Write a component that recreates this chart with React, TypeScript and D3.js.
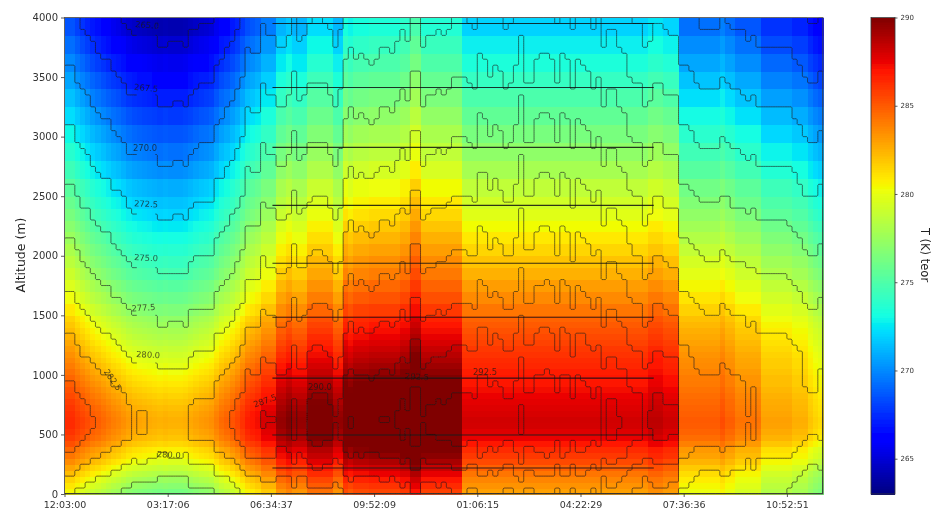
import React, { useEffect, useRef } from 'react'
import * as d3 from 'd3'

// tick labels
const timeTickColumns = [0, 20, 40, 60, 80, 100, 120, 140]
const timeTickLabels = ['12:03:00', '03:17:06', '06:34:37', '09:52:09', '01:06:15', '04:22:29', '07:36:36', '10:52:51']
const altitudeTicks = [0, 500, 1000, 1500, 2000, 2500, 3000, 3500, 4000]
const colorbarTicks = [265, 270, 275, 280, 285, 290]
const contourLevels = [265, 267.5, 270, 272.5, 275, 277.5, 280, 282.5, 285, 287.5, 290, 292.5]

// temperature below the inversion top, per 50 m of altitude, counted from the ground
const profileDrop = [
  6.2, 5.6, 5.0, 4.3, 3.6, 2.85, 2.2, 1.8, 1.1, 0.55, 0.3, 0.05, 0, 0.15, 0.4, 0.65, 0.95, 1.25, 1.6, 1.9,
  2.25, 2.6, 2.95, 3.25, 3.6, 3.95, 4.3, 4.6, 4.95, 5.3, 5.6, 5.95, 6.3, 6.6, 6.9, 7.2, 7.5, 7.8, 8.05, 8.3,
  8.6, 8.85, 9.15, 9.4, 9.65, 9.95, 10.2, 10.5, 10.75, 11.0, 11.3, 11.55, 11.85, 12.1, 12.4, 12.65, 12.9, 13.15, 13.4, 13.65,
  13.9, 14.15, 14.4, 14.65, 14.9, 15.15, 15.4, 15.65, 15.9, 16.15, 16.4, 16.65, 16.9, 17.15, 17.4, 17.6, 17.85, 18.1, 18.35, 18.6,
]
// how much of the low level cooling reaches each 50 m layer
const lowLayerShare = [
  0.5, 0.6, 0.7, 0.8, 0.85, 0.9, 0.95, 1, 1, 1, 1, 1, 1, 1, 0.95, 0.9, 0.85, 0.8, 0.75, 0.65,
  0.6, 0.55, 0.45, 0.4, 0.35, 0.3, 0.25, 0.2, 0.16, 0.13, 0.1, 0.07, 0.05, 0.03, 0.02, 0.01,
]

// warmest value of each time column
const contourPeak = [
  286.8, 286.8, 286.1, 285.7, 285.5, 285.1, 284.8, 284.5, 284.4, 284.0,
  283.8, 283.5, 283.1, 282.95, 282.95, 282.95, 282.95, 282.95, 282.5, 282.5,
  282.6, 282.7, 282.7, 282.5, 283.1, 283.3, 283.4, 283.4, 283.4, 284.35,
  284.5, 284.9, 285.2, 285.7, 286.2, 287.4, 287.2, 287.2, 288.4, 288.0,
  288.0, 287.5, 287.5, 287.9, 289.0, 287.8, 288.0, 288.4, 288.6, 288.6,
  288.5, 288.1, 287.5, 288.2, 289.55, 290.05, 289.4, 289.7, 289.5, 289.35,
  289.6, 290.0, 290.0, 289.7, 290.2, 290.7, 290.25, 291.5, 291.5, 290.0,
  290.4, 290.5, 290.7, 290.55, 290.8, 291.2, 291.2, 291.2, 291.05, 290.8,
  292.2, 292.1, 291.3, 291.85, 291.5, 290.8, 290.9, 291.8, 293.0, 291.1,
  291.1, 292.05, 292.15, 292.3, 292.0, 291.0, 292.2, 292.05, 290.7, 292.0,
  291.8, 291.4, 290.8, 291.3, 289.9, 290.7, 290.7, 290.05, 289.85, 288.85,
  288.5, 288.5, 287.4, 287.7, 288.5, 288.55, 288.1, 288.0, 288.0, 286.8,
  286.8, 286.5, 286.1, 285.8, 285.75, 285.75, 285.75, 286.2, 286.0, 285.7,
  285.7, 285.6, 285.3, 285.5, 285.0, 285.0, 285.0, 285.0, 285.0, 285.0,
  284.9, 284.6, 284.3, 283.7, 283.5, 283.5, 284.05,
]
const contourLowCooling = [
  0, 0, 0, 0, 0, 0, 0, 0, 0, 0,
  0, 0, 0, 0.55, 0.1, 0.1, 0.55, 0.55, 0.4, 0.4,
  0.4, 0.4, 0.4, 0.4, 0, 0, 0, 0, 0, 0,
  0, 0, 0, 0, 0, 0, 0, 0, 0.7, 0.5,
  0.5, 0.8, 0.8, 0.8, 0.8, 0.8, 0.8, 0, 0, 0,
  0, 0, 0, 0, 0, 0, 0, 0, 0, 0,
  0, 0, 0, 0, 0, 0, 0, 0, 0, 0,
  0, 0, 0, 0, 0, 0, 0, 0, 0, 0,
  0, 0, 0, 0, 0, 0, 0, 0, 0, 0,
  0, 0, 0, 0, 0, 0, 0, 0, 0, 0,
  0, 0, 0, 0, 0, 0, 0, 0, 0, 0,
  0, 0, 0, 0, 0, 0, 0, 0, 0, 1.9,
  1.9, 1.9, 1.9, 1.9, 1.9, 1.9, 1.9, 1.9, 1.9, 1.9,
  1.9, 1.9, 2.8, 2.0, 2.6, 2.6, 2.6, 2.6, 2.6, 2.6,
  2.6, 2.6, 2.6, 3.0, 3.0, 3.0, 3.0,
]

// same thing for the coloured cells, they are a different field than the lines
const colorPeak = [
  286.9, 286.9, 286.4, 286.0, 285.6, 285.2, 284.9, 284.6, 284.3, 284.0,
  283.8, 283.5, 283.2, 283.0, 282.9, 282.8, 282.7, 282.6, 282.5, 282.6,
  282.5, 282.5, 282.5, 282.6, 282.8, 283.0, 283.2, 283.3, 283.5, 284.0,
  284.5, 284.8, 285.2, 285.6, 286.2, 286.8, 287.0, 287.3, 288.0, 288.0,
  288.0, 289.5, 289.5, 290.0, 289.5, 289.5, 289.5, 290.6, 290.6, 290.6,
  290.6, 290.6, 289.6, 289.6, 291.6, 291.2, 291.6, 291.6, 291.6, 291.8,
  291.8, 291.8, 291.8, 291.8, 291.8, 292.2, 292.2, 293.2, 293.2, 291.9,
  291.9, 291.9, 291.9, 291.9, 291.9, 291.9, 291.9, 290.3, 290.3, 290.3,
  290.3, 290.3, 290.3, 290.3, 290.3, 290.3, 290.3, 290.3, 290.3, 290.3,
  290.3, 290.3, 290.3, 290.3, 290.3, 290.3, 290.3, 290.3, 290.3, 290.3,
  290.3, 290.3, 290.3, 290.3, 290.3, 290.3, 290.3, 290.3, 290.3, 290.3,
  290.3, 290.3, 290.3, 290.8, 290.8, 290.8, 290.4, 290.4, 290.4, 287.7,
  287.7, 287.7, 287.7, 287.7, 287.7, 287.7, 287.7, 288.1, 287.6, 287.6,
  287.0, 287.0, 287.0, 287.0, 287.0, 286.0, 286.0, 286.0, 286.0, 286.0,
  286.0, 285.6, 285.6, 285.6, 285.0, 284.6, 284.3,
]
const colorLowCooling = [
  0.5, 0.5, 0.4, 0.3, 0.2, 0.1, 0, 0, 0, 0,
  0, 0, 0, 0, 0, 0, 0, 0, 0, 0,
  0, 0, 0, 0, 0, 0, 0, 0, 0, 0,
  0, 0, 0, 0, 0, 0, 0, 0, 0, 0,
  0, 0, 0, 0, 0, 0, 0, 0, 0, 0,
  0, 0, 0, 0, 0, 0, 0, 0, 0, 0,
  0, 0, 0, 0, 0, 0, 0, 0, 0, 0,
  0, 0, 0, 0, 0, 0, 0, 2.2, 2.2, 2.2,
  2.2, 2.2, 2.2, 2.2, 2.2, 2.2, 2.2, 2.2, 2.2, 2.2,
  2.2, 2.2, 2.2, 2.2, 2.2, 2.2, 2.2, 2.2, 2.2, 2.2,
  2.2, 2.2, 2.2, 2.2, 2.2, 2.2, 2.2, 2.2, 2.2, 2.2,
  2.2, 2.2, 2.2, 2.2, 2.2, 2.2, 2.2, 2.2, 2.2, 2.7,
  2.7, 2.7, 2.7, 2.7, 2.7, 2.7, 2.7, 2.7, 2.7, 2.7,
  2.7, 2.7, 2.7, 2.7, 2.7, 3, 3, 3, 3, 3,
  3, 3, 3, 3, 3, 3, 3,
]

// altitude edges of the coloured rows, they get coarser with height
const colorRowEdges = [
  0, 50, 100, 150, 200, 250, 300, 350, 400, 450, 500, 550, 600, 650, 700, 750, 800, 850, 900, 950, 1000,
  1050, 1100, 1150, 1200, 1250, 1300, 1350, 1400, 1450, 1500,
  1600, 1700, 1800, 1900, 2000, 2100, 2200, 2300, 2400, 2500,
  2650, 2800, 2950, 3100, 3250, 3400, 3550, 3700, 3850, 4000,
]

// the straight lines of the second contour set
const straightLineAltitudes = [3950, 3413, 2910, 2423, 1937, 1484, 973, 495, 218]
const straightLineStart = 40.3
const straightLineEnd = 114.2

const labelTexts = ['265.0', '267.5', '270.0', '272.5', '275.0', '277.5', '280.0', '282.5', '280.0', '287.5', '290.0', '292.5', '292.5']
const labelColumns = [16, 15.8, 15.6, 15.8, 15.8, 15.3, 16.2, 9.3, 20.2, 38.9, 49.5, 68.3, 81.5]
const labelAltitudes = [3933, 3405, 2902, 2432, 1979, 1560, 1166, 956, 327, 780, 897, 981, 1023]
const labelAngles = [5, 5, 0, 3, 3, -4, 3, 55, 3, -20, 0, 3, 0]

const width = 934
const height = 511
const margin = { top: 17.5, left: 64.5, right: 823, bottom: 494 }
const bar = { left: 871, right: 895 }
const fine = 3 // grid repeat so that the marching squares corners stay small

const nCols = contourPeak.length
const nRows = profileDrop.length

const colScale = d3.scaleLinear().domain([0, nCols]).range([margin.left, margin.right])
const altScale = d3.scaleLinear().domain([0, 4000]).range([margin.bottom, margin.top])
const barScale = d3.scaleLinear().domain([263, 290]).range([margin.bottom, margin.top])

const red = d3.scaleLinear([0, 0.35, 0.66, 0.89, 1], [0, 0, 1, 1, 0.5])
const green = d3.scaleLinear([0, 0.125, 0.375, 0.64, 0.91, 1], [0, 0, 1, 1, 0, 0])
const blue = d3.scaleLinear([0, 0.11, 0.34, 0.65, 1], [0.5, 1, 1, 0, 0])
const fraction = d3.scaleLinear().domain([263, 290]).range([0, 1]).clamp(true)
function jet(t: number) {
  const f = fraction(t)
  return d3.rgb(red(f) * 255, green(f) * 255, blue(f) * 255).formatHex()
}

function cooled(peak: number, cool: number, layer: number) {
  return peak - profileDrop[layer] - cool * (lowLayerShare[layer] ?? 0)
}

// contour grid, top row first, every cell repeated
const contourGrid: number[] = []
for (let r = nRows * fine - 1; r >= 0; r--) {
  const layer = Math.floor(r / fine)
  for (let c = 0; c < nCols * fine; c++) {
    const col = Math.floor(c / fine)
    contourGrid.push(cooled(contourPeak[col], contourLowCooling[col], layer))
  }
}
const contourShapes = d3.contours().size([nCols * fine, nRows * fine]).smooth(false).thresholds(contourLevels)(contourGrid)
const gridY = d3.scaleLinear().domain([0, nRows * fine]).range([margin.top, margin.bottom])
const contourPath = d3.geoPath(d3.geoTransform({
  point(x, y) {
    this.stream.point(colScale(x / fine), gridY(y))
  },
}))

const barValues = d3.range(263, 290, 0.1)

export default function App() {
  const yAxisRef = useRef<SVGGElement>(null)
  const xAxisRef = useRef<SVGGElement>(null)
  const barAxisRef = useRef<SVGGElement>(null)

  useEffect(() => {
    const yAxis = d3.axisLeft(altScale).tickValues(altitudeTicks).tickSize(3.5).tickPadding(3).tickFormat(d3.format('d'))
    const xAxis = d3.axisBottom(colScale).tickValues(timeTickColumns).tickSize(3).tickPadding(4)
      .tickFormat((d, i) => timeTickLabels[i])
    const barAxis = d3.axisRight(barScale).tickValues(colorbarTicks).tickSize(2.5).tickPadding(3).tickFormat(d3.format('d'))

    const style = (sel, size) => {
      sel.select('.domain').remove()
      sel.selectAll('text').attr('font-family', 'DejaVu Sans').attr('font-size', size).attr('fill', '#333')
      sel.selectAll('line').attr('stroke', '#333').attr('stroke-width', 0.8)
    }
    d3.select(yAxisRef.current).call(yAxis).call(style, 10)
    d3.select(xAxisRef.current).call(xAxis).call(style, 9.5)
    d3.select(barAxisRef.current).call(barAxis).call(style, 7)
  }, [])

  return (
    <svg width={width} height={height} style={{ position: 'absolute', left: 0, top: 0, display: 'block' }}>
      <defs>
        <clipPath id="plot-clip">
          <rect x={margin.left} y={margin.top} width={margin.right - margin.left} height={margin.bottom - margin.top} />
        </clipPath>
        <filter id="soft" x="0" y="0" width="100%" height="100%">
          <feGaussianBlur stdDeviation="0.6" />
        </filter>
        {/* the first labels interrupt their contour line */}
        <mask id="label-gaps" maskUnits="userSpaceOnUse" x="0" y="0" width={width} height={height}>
          <rect width={width} height={height} fill="white" />
          {labelTexts.slice(0, 7).map((t, i) => (
            <rect
              key={i}
              x={colScale(14)}
              y={altScale(labelAltitudes[i]) - 6}
              width={colScale(17.6) - colScale(14)}
              height={18}
              fill="black"
            />
          ))}
        </mask>
      </defs>
      <rect width={width} height={height} fill="white" />
      <g filter="url(#soft)">
        <g shapeRendering="crispEdges">
          {contourPeak.map((_, col) =>
            colorRowEdges.slice(0, -1).map((low, r) => {
              const high = colorRowEdges[r + 1]
              const layer = Math.min(nRows - 1, Math.floor((low + high) / 2 / 50))
              return (
                <rect
                  key={col + '-' + r}
                  x={colScale(col)}
                  y={altScale(high)}
                  width={colScale(col + 1) - colScale(col) + 0.5}
                  height={altScale(low) - altScale(high) + 0.5}
                  fill={jet(cooled(colorPeak[col], colorLowCooling[col], layer))}
                />
              )
            })
          )}
        </g>
        <g clipPath="url(#plot-clip)">
          <g mask="url(#label-gaps)" fill="none" stroke="#1c1c1c" strokeOpacity={0.72} strokeWidth={0.85}>
            {contourShapes.map((shape) => (
              <path key={shape.value} d={contourPath(shape)} />
            ))}
          </g>
          {straightLineAltitudes.map((alt) => (
            <line
              key={alt}
              x1={colScale(straightLineStart)}
              x2={colScale(straightLineEnd)}
              y1={altScale(alt)}
              y2={altScale(alt)}
              stroke="#111"
              strokeOpacity={0.85}
              strokeWidth={1.1}
            />
          ))}
          {labelTexts.map((t, i) => (
            <text
              key={i}
              transform={`translate(${colScale(labelColumns[i])},${altScale(labelAltitudes[i])}) rotate(${labelAngles[i]})`}
              textAnchor="middle"
              dominantBaseline="middle"
              fontFamily="DejaVu Sans"
              fontSize={8.4}
              fill="#1a1a1a"
              fillOpacity={0.75}
            >
              {t}
            </text>
          ))}
        </g>
        <rect
          x={margin.left}
          y={margin.top}
          width={margin.right - margin.left}
          height={margin.bottom - margin.top}
          fill="none"
          stroke="#555"
          strokeWidth={0.8}
        />
        <g ref={yAxisRef} transform={`translate(${margin.left},0)`} />
        <g ref={xAxisRef} transform={`translate(0,${margin.bottom})`} />
        <text
          transform={`translate(25,255) rotate(-90)`}
          textAnchor="middle"
          fontFamily="DejaVu Sans"
          fontSize={12.5}
          fill="#222"
        >
          Altitude (m)
        </text>

        <g shapeRendering="crispEdges">
          {barValues.map((v) => (
            <rect
              key={v}
              x={bar.left}
              y={barScale(v + 0.1)}
              width={bar.right - bar.left}
              height={barScale(v) - barScale(v + 0.1) + 0.5}
              fill={jet(v + 0.05)}
            />
          ))}
        </g>
        <rect
          x={bar.left}
          y={margin.top}
          width={bar.right - bar.left}
          height={margin.bottom - margin.top}
          fill="none"
          stroke="#333"
          strokeWidth={0.8}
        />
        <g ref={barAxisRef} transform={`translate(${bar.right},0)`} />
        <text
          transform={`translate(921,255) rotate(90)`}
          textAnchor="middle"
          fontFamily="DejaVu Sans"
          fontSize={11.5}
          fill="#222"
        >
          T (K) teor
        </text>
      </g>
    </svg>
  )
}
